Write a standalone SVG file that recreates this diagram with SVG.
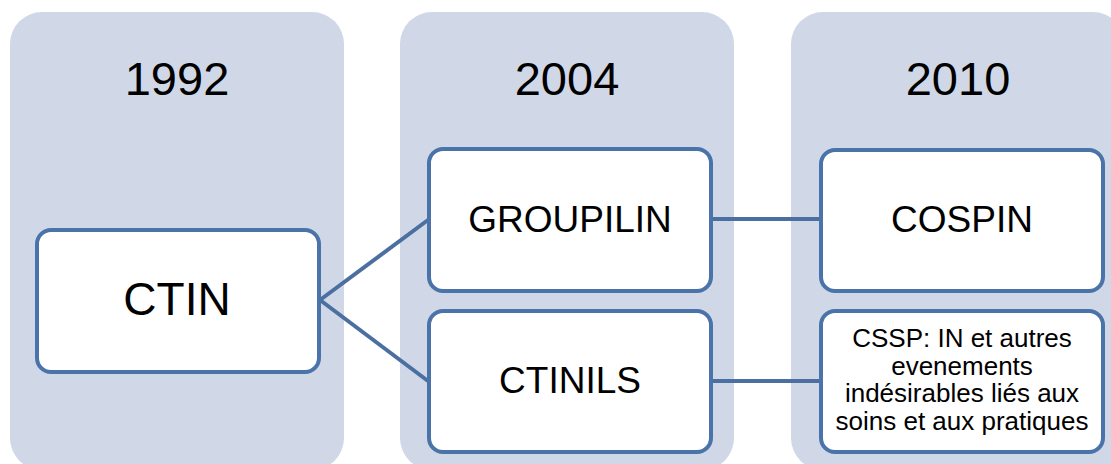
<svg xmlns="http://www.w3.org/2000/svg" width="1111" height="464" viewBox="0 0 1111 464">
<style>
.col{fill:#d0d8e7}
.box{fill:#ffffff;stroke:#4a74a9;stroke-width:4}
.con{fill:none;stroke:#4a6fa0;stroke-width:4}
text{font-family:"Liberation Sans",Arial,sans-serif;fill:#000;text-anchor:middle}
.yr{font-size:47px}
.big{font-size:46px}
.mid{font-size:37px}
.sm{font-size:26px}
</style>
<rect width="1111" height="464" fill="#ffffff"/>
<g id="col1992"><rect class="col" x="10" y="12" width="334" height="458" rx="32"/><text class="yr" x="177" y="95">1992</text></g>
<g id="col2004"><rect class="col" x="400" y="12" width="334" height="458" rx="32"/><text class="yr" x="567" y="95">2004</text></g>
<g id="col2010"><rect class="col" x="791" y="12" width="334" height="458" rx="32"/><text class="yr" x="958" y="95">2010</text></g>
<g id="connectors">
<path class="con" d="M320 300 L428 220"/>
<path class="con" d="M320 300 L428 381"/>
<path class="con" d="M712 219 L820 219"/>
<path class="con" d="M712 381 L820 381"/>
</g>
<g id="ctin"><rect class="box" x="37" y="230" width="282" height="142" rx="14"/><text class="big" x="177" y="315">CTIN</text></g>
<g id="groupilin"><rect class="box" x="429" y="149" width="282" height="142" rx="14"/><text class="mid" x="570" y="232">GROUPILIN</text></g>
<g id="ctinils"><rect class="box" x="429" y="311" width="282" height="141" rx="14"/><text class="mid" x="570" y="393">CTINILS</text></g>
<g id="cospin"><rect class="box" x="821" y="150" width="282" height="141" rx="14"/><text class="mid" x="962" y="232">COSPIN</text></g>
<g id="cssp"><rect class="box" x="821" y="311" width="282" height="141" rx="14"/>
<text class="sm" x="962" y="347">CSSP: IN et autres</text>
<text class="sm" x="962" y="374.5">evenements</text>
<text class="sm" x="962" y="402">indésirables liés aux</text>
<text class="sm" x="962" y="430">soins et aux pratiques</text></g>
</svg>
